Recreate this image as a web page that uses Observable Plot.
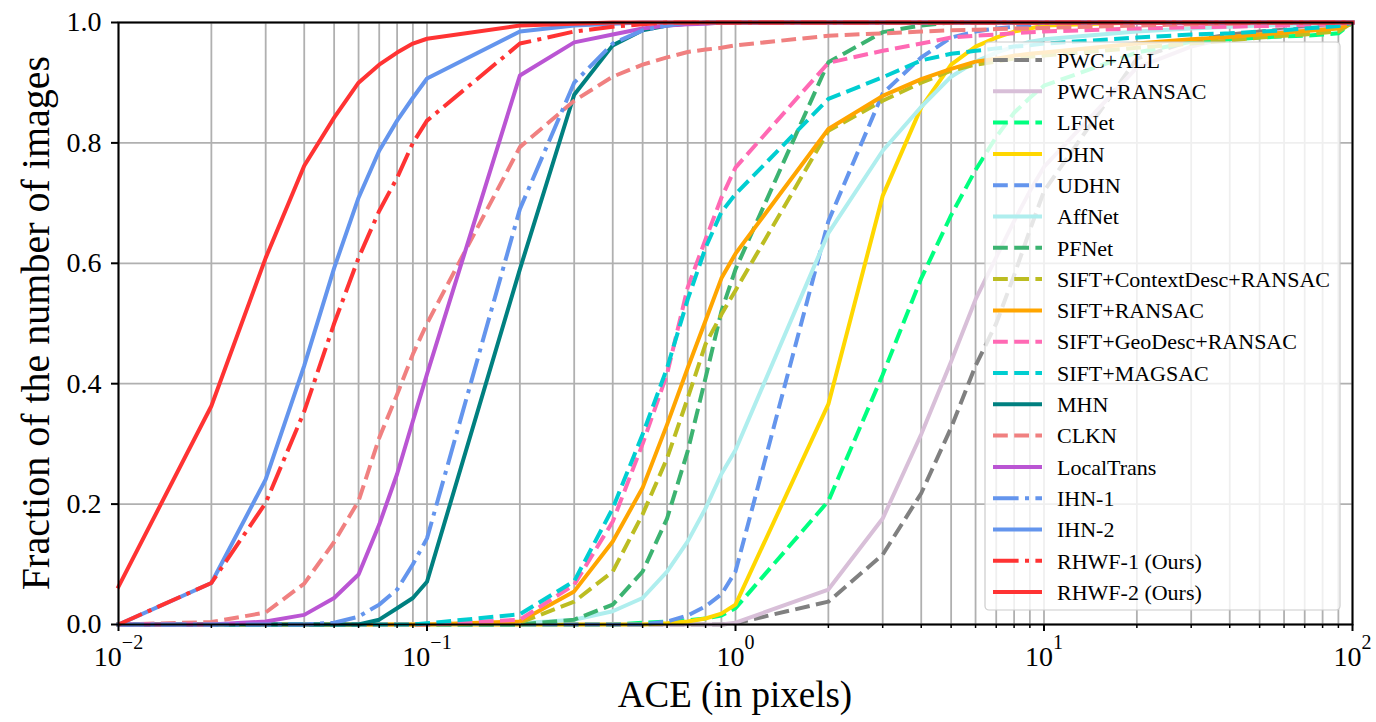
<!DOCTYPE html>
<html><head><meta charset="utf-8">
<script src="https://cdn.jsdelivr.net/npm/d3@7"></script>
<script src="https://cdn.jsdelivr.net/npm/@observablehq/plot@0.6"></script>
<style>
body{margin:0;background:#fff}
svg text, svg tspan{font-family:'Liberation Serif','Times New Roman',serif !important}
</style>
</head><body><div id="chart"></div>
<script>
// ACE thresholds (x values shared by all curves)
const xs = [0.01,0.02,0.03,0.04,0.05,0.06,0.07,0.08,0.09,
            0.1,0.2,0.3,0.4,0.5,0.6,0.7,0.8,0.9,
            1,2,3,4,5,6,7,8,9,
            10,20,30,40,50,60,70,80,90,
            100];

const pwcAll = [0,0,0,0,0,0,0,0,0, 0,0,0,0,0,0,0,0,0,
  0.002,0.038,0.116,0.218,0.327,0.43,0.5,0.58,0.655,
  0.72,0.94,0.97,0.98,0.985,0.988,0.99,0.992,0.994, 1];
const pwcRansac = [0,0,0,0,0,0,0,0,0, 0,0,0,0,0,0,0,0,0,
  0.003,0.058,0.176,0.316,0.437,0.54,0.61,0.67,0.72,
  0.76,0.925,0.96,0.975,0.98,0.985,0.988,0.99,0.992, 1];
const lfnet = [0,0,0,0,0,0,0,0,0, 0,0,0,0,0.003,0.005,0.007,0.01,0.015,
  0.027,0.205,0.415,0.575,0.68,0.755,0.81,0.85,0.875,
  0.895,0.95,0.968,0.972,0.975,0.977,0.978,0.98,0.982, 1];
const dhn = [0,0,0,0,0,0,0,0,0, 0,0,0,0,0,0.002,0.005,0.01,0.018,
  0.033,0.366,0.712,0.859,0.93,0.96,0.975,0.985,0.99,
  0.995,1,1,1,1,1,1,1,1, 1];
const udhn = [0,0,0,0,0,0,0,0,0, 0,0,0,0,0,0.005,0.015,0.03,0.05,
  0.088,0.67,0.882,0.942,0.975,0.985,0.99,0.993,0.996,
  1,1,1,1,1,1,1,1,1, 1];
const affnet = [0,0,0,0,0,0,0,0,0, 0,0.002,0.008,0.022,0.044,0.088,0.138,0.193,0.25,
  0.29,0.65,0.787,0.86,0.91,0.935,0.95,0.96,0.968,
  0.972,0.985,0.99,0.993,0.995,0.996,0.997,0.998,0.999, 1];
const pfnet = [0,0,0,0,0,0,0,0,0, 0,0,0.008,0.033,0.088,0.176,0.288,0.41,0.52,
  0.59,0.934,0.984,0.995,1,1,1,1,1,
  1,1,1,1,1,1,1,1,1, 1];
const siftContext = [0,0,0,0,0,0,0,0,0, 0,0.003,0.038,0.088,0.183,0.276,0.376,0.466,0.515,
  0.555,0.82,0.87,0.9,0.92,0.93,0.935,0.94,0.943,
  0.945,0.958,0.965,0.97,0.975,0.978,0.98,0.983,0.985, 1];
const siftRansac = [0,0,0,0,0,0,0,0,0, 0,0.005,0.055,0.138,0.227,0.332,0.426,0.505,0.575,
  0.616,0.823,0.878,0.906,0.923,0.935,0.94,0.945,0.948,
  0.95,0.965,0.972,0.976,0.98,0.983,0.986,0.988,0.99, 1];
const siftGeo = [0,0,0,0,0,0,0,0,0, 0,0.008,0.066,0.171,0.3,0.416,0.56,0.64,0.709,
  0.759,0.933,0.953,0.965,0.975,0.978,0.98,0.982,0.984,
  0.985,0.99,0.992,0.993,0.994,0.995,0.996,0.997,0.998, 1];
const siftMagsac = [0,0,0,0,0,0,0,0,0, 0.002,0.017,0.072,0.193,0.316,0.426,0.54,0.626,0.685,
  0.715,0.873,0.909,0.937,0.948,0.953,0.957,0.96,0.962,
  0.965,0.975,0.98,0.982,0.985,0.987,0.99,0.992,0.994, 1];
const mhn = [0,0,0,0,0,0,0.008,0.027,0.044, 0.071,0.59,0.88,0.962,0.987,0.995,0.998,1,1,
  1,1,1,1,1,1,1,1,1, 1,1,1,1,1,1,1,1,1, 1];
const clkn = [0,0.004,0.02,0.068,0.137,0.205,0.31,0.382,0.449,
  0.5,0.793,0.87,0.91,0.93,0.942,0.951,0.955,0.958,
  0.962,0.978,0.982,0.985,0.987,0.988,0.989,0.99,0.99,
  0.991,0.995,0.997,0.998,0.999,1,1,1,1, 1];
const localTrans = [0,0,0.005,0.016,0.044,0.083,0.166,0.25,0.338,
  0.416,0.912,0.967,0.98,0.99,0.995,0.997,0.998,1,
  1,1,1,1,1,1,1,1,1, 1,1,1,1,1,1,1,1,1, 1];
const ihn1 = [0,0,0,0,0.003,0.013,0.033,0.058,0.1,
  0.143,0.69,0.9,0.965,0.987,0.995,1,1,1,
  1,1,1,1,1,1,1,1,1, 1,1,1,1,1,1,1,1,1, 1];
const ihn2 = [0,0.069,0.241,0.43,0.592,0.709,0.787,0.837,0.875,
  0.907,0.985,0.995,0.998,1,1,1,1,1,
  1,1,1,1,1,1,1,1,1, 1,1,1,1,1,1,1,1,1, 1];
const rhwf1 = [0,0.069,0.202,0.354,0.5,0.609,0.687,0.742,0.8,
  0.837,0.965,0.985,0.993,0.997,1,1,1,1,
  1,1,1,1,1,1,1,1,1, 1,1,1,1,1,1,1,1,1, 1];
const rhwf2 = [0.063,0.363,0.609,0.762,0.842,0.9,0.93,0.95,0.965,
  0.973,0.995,0.998,1,1,1,1,1,1,
  1,1,1,1,1,1,1,1,1, 1,1,1,1,1,1,1,1,1, 1];

const seriesNames = ["PWC+ALL","PWC+RANSAC","LFNet","DHN","UDHN","AffNet","PFNet",
  "SIFT+ContextDesc+RANSAC","SIFT+RANSAC","SIFT+GeoDesc+RANSAC","SIFT+MAGSAC",
  "MHN","CLKN","LocalTrans","IHN-1","IHN-2","RHWF-1 (Ours)","RHWF-2 (Ours)"];
const seriesValues = [pwcAll,pwcRansac,lfnet,dhn,udhn,affnet,pfnet,siftContext,siftRansac,
  siftGeo,siftMagsac,mhn,clkn,localTrans,ihn1,ihn2,rhwf1,rhwf2];
const seriesColors = ["#808080","#D8BFD8","#00FF7F","#FFD700","#6495ED","#AFEEEE","#3CB371",
  "#BCBD22","#FFA500","#FF69B4","#00CED1","#008080","#F08080","#BA55D3",
  "#6495ED","#6495ED","#FF3333","#FF3333"];
const seriesStyles = ["dashed","solid","dashed","solid","dashed","solid","dashed",
  "dashed","solid","dashed","dashed","solid","dashed","solid",
  "dashdot","solid","dashdot","solid"];

const xMajor = [0.01, 0.1, 1, 10, 100];
const xMinor = [0.02,0.03,0.04,0.05,0.06,0.07,0.08,0.09,
  0.2,0.3,0.4,0.5,0.6,0.7,0.8,0.9, 2,3,4,5,6,7,8,9, 20,30,40,50,60,70,80,90];
const yTicks = [0, 0.2, 0.4, 0.6, 0.8, 1.0];

const dashMap = {solid: null, dashed: "14.8,6.4", dashdot: "25.6,6.4,4,6.4"};
const FONT = "'Liberation Serif','Times New Roman',serif";

const lineMarks = seriesNames.map((name, k) => {
  const rows = xs.map((x, i) => ({x, y: seriesValues[k][i]}));
  return Plot.line(rows, {
    x: "x", y: "y",
    stroke: seriesColors[k], strokeWidth: 4,
    strokeDasharray: dashMap[seriesStyles[k]],
    strokeLinecap: seriesStyles[k] === "solid" ? "square" : "butt",
    strokeLinejoin: "round"
  });
});

const chart = Plot.plot({
  width: 1376, height: 722,
  marginLeft: 118, marginRight: 24, marginTop: 22, marginBottom: 98,
  style: {fontFamily: FONT, background: "white", color: "black"},
  x: {type: "log", domain: [0.01, 100], label: null},
  y: {domain: [0, 1], label: null},
  marks: [
    Plot.ruleX([...xMajor, ...xMinor], {stroke: "#b0b0b0", strokeWidth: 1.8}),
    Plot.ruleY(yTicks, {stroke: "#b0b0b0", strokeWidth: 1.8}),
    ...lineMarks,
    Plot.frame({stroke: "black", strokeWidth: 2}),
    Plot.axisX(xMajor, {tickSize: 7, tickPadding: 15, strokeWidth: 2, fontSize: 28, fontFamily: FONT, tickFormat: () => "10"}),
    Plot.axisX(xMinor, {tickSize: 4, strokeWidth: 1.5, tickFormat: () => ""}),
    Plot.axisY(yTicks, {tickSize: 7, tickPadding: 10, strokeWidth: 2, fontSize: 28, fontFamily: FONT, tickFormat: d3.format(".1f")})
  ]
});
document.getElementById("chart").appendChild(chart);

const svg = d3.select(chart);
// superscript exponents on the x tick labels
svg.selectAll('g[aria-label="x-axis tick label"] text').each(function(d, i) {
  const t = d3.select(this);
  if (t.text() !== "10") return;
  const e = Math.round(Math.log10(xMajor[i]));
  t.append("tspan").attr("dy", -17).attr("font-size", 20).text(String(e).replace("-", "\u2212"));
});

// axis titles
svg.append("text").attr("x", 735).attr("y", 707).attr("text-anchor", "middle")
  .attr("font-size", 37).attr("fill", "black").text("ACE (in pixels)");
svg.append("text").attr("transform", "translate(49,323) rotate(-90)").attr("text-anchor", "middle")
  .attr("font-size", 40).attr("fill", "black").text("Fraction of the number of images");

// legend
const lg = svg.append("g").attr("text-anchor", "start");
lg.append("rect").attr("x", 985).attr("y", 42).attr("width", 355).attr("height", 568).attr("rx", 4)
  .attr("fill", "white").attr("fill-opacity", 0.8).attr("stroke", "#cccccc").attr("stroke-width", 1.2);
seriesNames.forEach((name, k) => {
  const yy = 60 + k * 31.3;
  lg.append("line").attr("x1", 993).attr("x2", 1042).attr("y1", yy).attr("y2", yy)
    .attr("stroke", seriesColors[k]).attr("stroke-width", 4)
    .attr("stroke-dasharray", dashMap[seriesStyles[k]])
    .attr("stroke-linecap", "butt");
  lg.append("text").attr("x", 1057).attr("y", yy).attr("dy", "0.35em")
    .attr("text-anchor", "start")
    .attr("font-size", 22).attr("fill", "black").text(name);
});

// make sure every text uses the serif face
svg.selectAll("text").attr("font-family", FONT).style("font-family", FONT);
</script></body></html>
